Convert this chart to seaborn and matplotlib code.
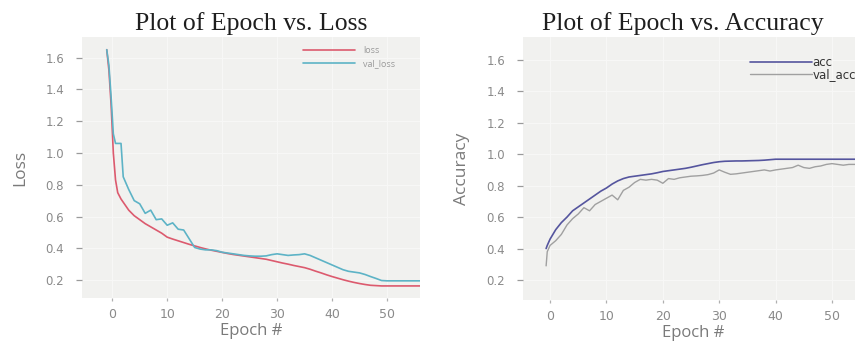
import matplotlib
matplotlib.use("Agg")
import matplotlib.pyplot as plt
import seaborn as sns
import pandas as pd

# ---------------- data ----------------
loss_epochs = [-1, -0.6, -0.2, 0.2, 0.6, 1, 1.6, 2, 3, 4, 5, 6, 7, 8, 9, 10,
               11, 12, 13, 14, 15, 16, 17, 18, 19, 20, 21, 22, 23, 24, 25,
               26, 27, 28, 29, 30, 31, 32, 33, 34, 35, 36, 37, 38, 39, 40,
               41, 42, 43, 44, 45, 46, 47, 48, 49, 50, 51, 52, 53, 54, 55, 56]
loss = [1.65, 1.52, 1.30, 1.00, 0.83, 0.75, 0.71, 0.69, 0.64, 0.605, 0.58,
        0.555, 0.535, 0.515, 0.495, 0.47, 0.458, 0.447, 0.436, 0.425, 0.415,
        0.405, 0.396, 0.388, 0.381, 0.374, 0.367, 0.361, 0.356, 0.351, 0.346,
        0.341, 0.336, 0.331, 0.323, 0.315, 0.307, 0.300, 0.292, 0.285, 0.278,
        0.268, 0.256, 0.245, 0.233, 0.222, 0.212, 0.202, 0.193, 0.185, 0.178,
        0.172, 0.167, 0.165, 0.163, 0.163, 0.163, 0.163, 0.163, 0.163, 0.163,
        0.163]
val_loss = [1.65, 1.55, 1.35, 1.12, 1.06, 1.06, 1.06, 0.85, 0.77, 0.70, 0.68,
            0.62, 0.64, 0.58, 0.585, 0.545, 0.56, 0.52, 0.515, 0.46, 0.405,
            0.395, 0.39, 0.39, 0.385, 0.375, 0.37, 0.365, 0.36, 0.355, 0.352,
            0.35, 0.35, 0.352, 0.36, 0.365, 0.36, 0.355, 0.358, 0.36, 0.365,
            0.355, 0.34, 0.325, 0.31, 0.295, 0.28, 0.265, 0.255, 0.25, 0.245,
            0.235, 0.222, 0.21, 0.197, 0.195, 0.195, 0.195, 0.195, 0.195,
            0.195, 0.195]

acc_epochs = [-0.7, -0.5, 0, 1, 2, 3, 4, 5, 6, 7, 8, 9, 10, 11, 12, 13, 14,
              15, 16, 17, 18, 19, 20, 21, 22, 23, 24, 25, 26, 27, 28, 29, 30,
              31, 32, 33, 34, 35, 36, 37, 38, 39, 40, 41, 42, 43, 44, 45, 46,
              47, 48, 49, 50, 51, 52, 53, 54, 55, 56]
acc = [0.40, 0.42, 0.46, 0.52, 0.565, 0.60, 0.64, 0.665, 0.69, 0.715, 0.74,
       0.765, 0.785, 0.81, 0.83, 0.845, 0.855, 0.86, 0.865, 0.87, 0.875,
       0.882, 0.89, 0.895, 0.90, 0.905, 0.91, 0.917, 0.925, 0.933, 0.94,
       0.947, 0.952, 0.955, 0.956, 0.957, 0.957, 0.958, 0.959, 0.960, 0.962,
       0.965, 0.968, 0.968, 0.968, 0.968, 0.968, 0.968, 0.968, 0.968, 0.968,
       0.968, 0.968, 0.968, 0.968, 0.968, 0.968, 0.968, 0.968]
val_acc = [0.29, 0.38, 0.42, 0.45, 0.49, 0.55, 0.59, 0.62, 0.66, 0.64, 0.68,
           0.70, 0.72, 0.74, 0.71, 0.77, 0.79, 0.82, 0.84, 0.835, 0.84, 0.835,
           0.815, 0.845, 0.84, 0.85, 0.855, 0.86, 0.862, 0.865, 0.87, 0.88,
           0.90, 0.885, 0.872, 0.875, 0.88, 0.885, 0.89, 0.895, 0.90, 0.893,
           0.90, 0.905, 0.91, 0.915, 0.93, 0.915, 0.91, 0.92, 0.925, 0.935,
           0.94, 0.935, 0.93, 0.935, 0.935, 0.935, 0.935]

y_ticks = [0.2, 0.4, 0.6, 0.8, 1.0, 1.2, 1.4, 1.6]
x_ticks = [0, 10, 20, 30, 40, 50]

# ---------------- style ----------------
sns.set_style("darkgrid", {
    "axes.facecolor": "#f1f1ef",
    "grid.color": "#f7f7f6",
    "grid.linewidth": 0.8,
    "axes.edgecolor": "#f1f1ef",
})
plt.rcParams["font.family"] = ["DejaVu Sans"]

fig = plt.figure(figsize=(8.55, 3.45), dpi=100)
W, H = 855, 345
ax1 = fig.add_axes([82 / W, (H - 298) / H, 338 / W, 261 / H])
ax2 = fig.add_axes([523 / W, (H - 300) / H, 340 / W, 263 / H])

df_loss = pd.DataFrame({"epoch": loss_epochs, "loss": loss, "val_loss": val_loss})
df_acc = pd.DataFrame({"epoch": acc_epochs, "acc": acc, "val_acc": val_acc})

sns.lineplot(data=df_loss, x="epoch", y="loss", ax=ax1, color="#dc5a6e",
             lw=1.2, label="loss")
sns.lineplot(data=df_loss, x="epoch", y="val_loss", ax=ax1, color="#5db3c6",
             lw=1.2, label="val_loss")
sns.lineplot(data=df_acc, x="epoch", y="acc", ax=ax2, color="#55559e",
             lw=1.2, label="acc")
sns.lineplot(data=df_acc, x="epoch", y="val_acc", ax=ax2, color="#a0a0a0",
             lw=1.0, label="val_acc")

tick_col = "#8a8a8a"
label_font = ["Open Sans", "DejaVu Sans"]
for ax in (ax1, ax2):
    ax.set_yticks(y_ticks)
    ax.set_yticklabels([f"{v:.1f}" for v in y_ticks])
    ax.set_xticks(x_ticks)
    ax.tick_params(axis="y", length=4, width=0.9, color="#9a9a9a", pad=9,
                   labelsize=8.5, labelcolor=tick_col, left=True)
    ax.tick_params(axis="x", length=2.5, width=0.9, color="#b0b0b0", pad=5,
                   labelsize=9, labelcolor=tick_col, bottom=True)
    ax.set_xlabel("Epoch #", fontsize=12, color="#7a7a7a", labelpad=1,
                  family=label_font)
    for s in ax.spines.values():
        s.set_visible(False)

ax1.set_xlim(-5.5, 56)
ax1.set_ylim(0.087, 1.73)
ax2.set_xlim(-4.8, 55.5)
ax2.set_ylim(0.073, 1.745)

ax1.set_ylabel("Loss", fontsize=12.5, color="#7a7a7a", labelpad=12,
               family=label_font)
ax2.set_ylabel("Accuracy", fontsize=12.5, color="#7a7a7a", labelpad=12,
               family=label_font)

ax1.set_title("Plot of Epoch vs. Loss", family="Liberation Serif",
              fontsize=18.5, color="#1e1e1e", pad=5)
ax2.set_title("Plot of Epoch vs. Accuracy", family="Liberation Serif",
              fontsize=18.5, color="#1e1e1e", pad=5, x=0.47)

ax1.legend(loc="upper left", bbox_to_anchor=(303 / W, (H - 46) / H),
           bbox_transform=fig.transFigure, frameon=False, borderpad=0,
           borderaxespad=0, handlelength=5.8,
           handletextpad=0.9, labelspacing=0.45, labelcolor="#9a9a9a",
           prop={"family": label_font, "size": 6.5})
ax2.legend(loc="upper left", bbox_to_anchor=(750 / W, (H - 56) / H),
           bbox_transform=fig.transFigure, frameon=False, borderpad=0,
           borderaxespad=0, handlelength=5.25, handletextpad=0.05,
           labelspacing=-0.1, labelcolor="#333333",
           prop={"family": "DejaVu Sans", "size": 8.5})

fig.savefig("out.png", dpi=100)
